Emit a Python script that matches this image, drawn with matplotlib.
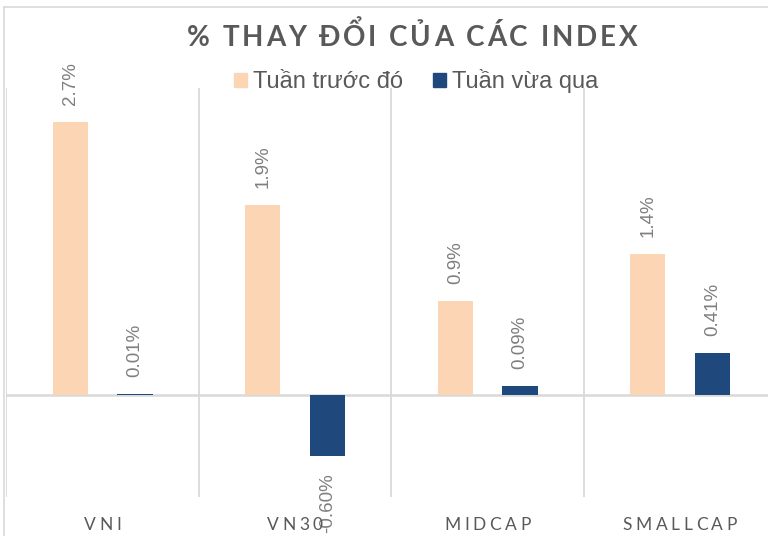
import matplotlib
matplotlib.use("Agg")
import matplotlib.pyplot as plt
from matplotlib.patches import Patch
from matplotlib.font_manager import FontProperties
import numpy as np

categories = ["VNI", "VN30", "MIDCAP", "SMALLCAP"]
prev_week = [2.67, 1.86, 0.92, 1.38]     # Tuần trước đó (%)
last_week = [0.01, -0.60, 0.09, 0.41]    # Tuần vừa qua (%)
series_names = ["Tuần trước đó", "Tuần vừa qua"]
title = "% THAY ĐỔI CỦA CÁC INDEX"

W, H, DPI = 768, 536, 100
fig = plt.figure(figsize=(W / DPI, H / DPI), dpi=DPI)
fig.patch.set_facecolor("white")

C_PREV = "#FCD5B5"
C_LAST = "#1F497D"
GRID = "#D9D9D9"
TXT = "#595959"
LBL = "#7F7F7F"

# outer chart border (chart is cropped on right/bottom)
fig.add_artist(plt.Line2D([3.5 / W, 3.5 / W], [0, 1 - 7 / H], color=GRID, lw=1.2))
fig.add_artist(plt.Line2D([3.5 / W, 1], [1 - 7 / H, 1 - 7 / H], color=GRID, lw=1.2))

top_px, bot_px, left_px, right_px = 88, 497, 6, 776
ax = fig.add_axes([left_px / W, 1 - bot_px / H, (right_px - left_px) / W, (bot_px - top_px) / H])
ax.set_xlim(-0.5, len(categories) - 0.5)
ax.set_ylim(-1, 3)
for s in ax.spines.values():
    s.set_visible(False)
ax.set_xticks([])
ax.set_yticks([])
ax.patch.set_alpha(0)

for b in np.arange(len(categories) + 1) - 0.5:
    ax.axvline(b, color=GRID, lw=1.3, zorder=0.5)
ax.axhline(0, color=GRID, lw=1.8, zorder=0.5)

x = np.arange(len(categories))
bw = 0.183
ax.bar(x - 0.166, prev_week, bw, color=C_PREV, zorder=2, label=series_names[0])
ax.bar(x + 0.17, last_week, bw, color=C_LAST, zorder=2, label=series_names[1])

def add_labels(xs, vals, fmt):
    for xi, v in zip(xs, vals):
        off = 12 if v >= 0 else -12
        ax.annotate(fmt.format(v), (xi, v), xytext=(0, off), textcoords="offset points",
                    rotation=90, ha="center", va="bottom" if v >= 0 else "top",
                    fontsize=13.5, color=LBL, family="Liberation Sans", zorder=3)

add_labels(x - 0.166, prev_week, "{:.1f}%")
add_labels(x + 0.17, last_week, "{:.2f}%")

renderer = fig.canvas.get_renderer()

def spaced_text(cx_px, base_px, s, tracking, color, fp):
    def wid(t):
        if not t:
            return 0.0
        w, h, d = renderer.get_text_width_height_descent(t, fp, ismath=False)
        return w
    total = wid(s) + (len(s) - 1) * tracking
    x0 = cx_px - total / 2
    for i, ch in enumerate(s):
        xp = x0 + wid(s[:i]) + i * tracking
        fig.text(xp / W, 1 - base_px / H, ch, fontproperties=fp, color=color,
                 ha="left", va="baseline")

fp_title = FontProperties(family="Lato", weight="bold", size=20)
spaced_text(412, 46, title, 2.9, TXT, fp_title)

fp_cat = FontProperties(family="Lato", size=12.5)
for xi, c in zip(x, categories):
    cx = left_px + (xi + 0.5) * (right_px - left_px) / len(categories)
    spaced_text(cx, 530, c, 3.6, TXT, fp_cat)

handles = [Patch(color=C_PREV), Patch(color=C_LAST)]
leg = fig.legend(handles, series_names, loc="center", bbox_to_anchor=(416 / W, 1 - 81 / H),
                 ncol=2, frameon=False, handlelength=0.55, handleheight=0.55,
                 handletextpad=0.25, columnspacing=1.25,
                 prop=FontProperties(family="Liberation Sans", size=17))
for t in leg.get_texts():
    t.set_color(TXT)

fig.savefig("out.png", dpi=DPI)
